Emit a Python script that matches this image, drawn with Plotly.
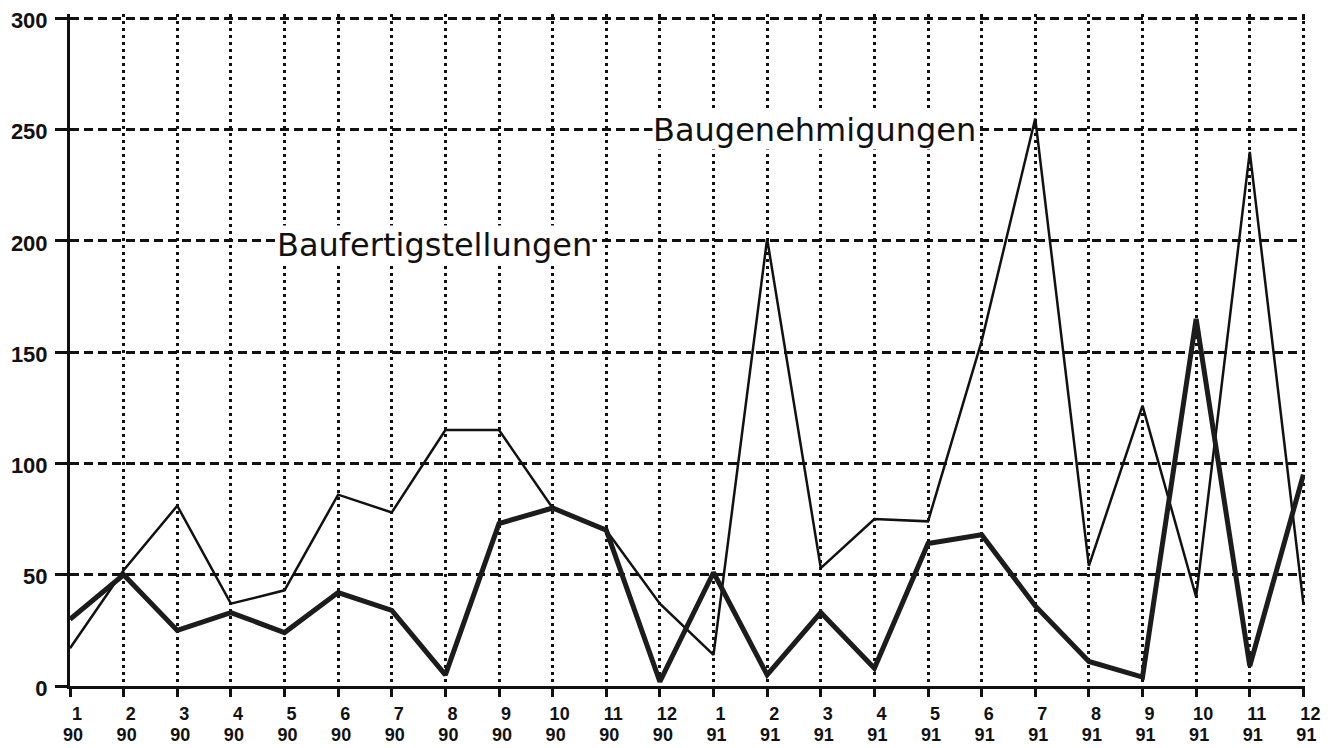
import plotly.graph_objects as go

# months Jan 1990 .. Dec 1991
months = [str(m) for m in range(1, 13)] * 2
years = ["90"] * 12 + ["91"] * 12
positions = list(range(len(months)))

# Baugenehmigungen (thin line)
genehmigungen = [17, 52, 81, 37, 43, 86, 78, 115, 115, 80, 70, 37,
                 14, 201, 53, 75, 74, 155, 255, 54, 126, 40, 240, 37]

# Baufertigstellungen (thick line)
fertigstellungen = [30, 50, 25, 33, 24, 42, 34, 5, 73, 80, 70, 2,
                    51, 5, 33, 8, 64, 68, 36, 11, 4, 165, 9, 95]

y_ticks = [0, 50, 100, 150, 200, 250, 300]

INK = "#111111"

fig = go.Figure()
fig.add_trace(go.Scatter(
    x=positions, y=genehmigungen, mode="lines",
    line=dict(color=INK, width=2.5), name="Baugenehmigungen"
))
fig.add_trace(go.Scatter(
    x=positions, y=fertigstellungen, mode="lines",
    line=dict(color="#1c1c1c", width=5), name="Baufertigstellungen"
))

label_font = dict(family="DejaVu Sans", size=32, color=INK)
fig.add_annotation(x=3.85, y=198, xref="x", yref="y", text="Baufertigstellungen",
                   showarrow=False, xanchor="left", yanchor="middle",
                   font=label_font, bgcolor="white", borderpad=0)
fig.add_annotation(x=10.85, y=250, xref="x", yref="y", text="Baugenehmigungen",
                   showarrow=False, xanchor="left", yanchor="middle",
                   font=label_font, bgcolor="white", borderpad=0)

tick_font = dict(family="Liberation Sans", size=18, color=INK, weight="bold")

# the page body adds 8px, margins are set against that
fig.update_layout(
    width=1335, height=748,
    margin=dict(l=62, r=38, t=6, b=70),
    paper_bgcolor="white", plot_bgcolor="white",
    showlegend=False,
    font=dict(family="Liberation Sans", color=INK),
    xaxis=dict(
        range=[0, 23.03], tickvals=positions, ticktext=months,
        showgrid=True, gridcolor=INK, gridwidth=3, griddash="3px,4px",
        showline=True, linecolor=INK, linewidth=2.5,
        ticks="outside", ticklen=8, tickwidth=3, tickcolor=INK,
        tickfont=tick_font, ticklabelstandoff=2, ticklabelshift=7,
        ticklabeloverflow="allow",
        zeroline=False, automargin=False,
    ),
    # second row of x labels: the year
    xaxis2=dict(
        overlaying="x", anchor="y", side="bottom",
        range=[0, 23.03], tickvals=positions, ticktext=years,
        showgrid=False, showline=False, ticks="",
        tickfont=tick_font, ticklabelstandoff=36, ticklabelshift=3,
        ticklabeloverflow="allow",
        zeroline=False, automargin=False,
    ),
    yaxis=dict(
        range=[0, 302], tickvals=y_ticks,
        showgrid=True, gridcolor=INK, gridwidth=2.5, griddash="9px,5px",
        showline=True, linecolor=INK, linewidth=3,
        ticks="outside", ticklen=12, tickwidth=2.5, tickcolor=INK,
        tickfont=dict(family="Liberation Sans", size=22, color=INK, weight="bold"),
        ticklabelstandoff=3, ticklabelshift=2, ticklabeloverflow="allow",
        zeroline=False, automargin=False,
    ),
)

# invisible trace so the year axis is drawn
fig.add_trace(go.Scatter(x=positions, y=[None] * len(positions), xaxis="x2",
                         mode="lines", showlegend=False, hoverinfo="skip"))

fig.write_html("out.html")
